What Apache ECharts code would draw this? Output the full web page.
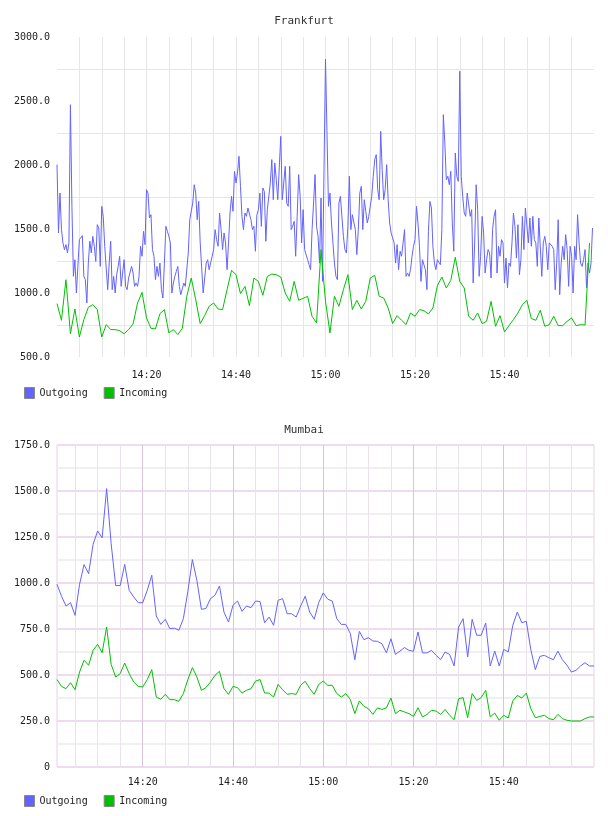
<!DOCTYPE html>
<html>
<head>
<meta charset="utf-8">
<title>Traffic</title>
<script src="https://cdn.jsdelivr.net/npm/echarts@6/dist/echarts.min.js"></script>
<style>
  html, body { margin: 0; padding: 0; background: #fff; }
  #chart { width: 608px; height: 816px; }
</style>
</head>
<body>
<div id="chart"></div>
<script>
// x values are minutes after 14:00
const fraOutStart = 0
const fraOutStep = 1 / 3
const fraInStart = 0
const fraInStep = 1

const fraOutgoing = [
  2003, 1469, 1781, 1495, 1391, 1339, 1378, 1313, 1391, 2471,
  1677, 1130, 1260, 1000, 1208, 1417, 1417, 1448, 1130, 1104,
  922, 1234, 1404, 1313, 1443, 1365, 1247, 1534, 1508, 1208,
  1677, 1599, 1365, 1195, 1026, 1234, 1404, 1026, 1130, 1000,
  1143, 1208, 1287, 1052, 1156, 1260, 1052, 1026, 1117, 1104,
  1208, 1156, 1052, 1078, 1052, 1130, 1365, 1287, 1482, 1378,
  1807, 1781, 1586, 1612, 1339, 1287, 1104, 1208, 1130, 1234,
  1026, 961, 1234, 1521, 1482, 1443, 1391, 1000, 1078, 1130,
  1169, 1208, 1052, 987, 1000, 1078, 1052, 1039, 1313, 1573,
  1560, 1703, 1846, 1781, 1573, 1716, 1391, 1195, 1000, 1117,
  1234, 1260, 1182, 1234, 1287, 1339, 1495, 1417, 1365, 1625,
  1495, 1339, 1469, 1391, 1182, 1391, 1625, 1755, 1638, 1951,
  1859, 1937, 2068, 1833, 1599, 1495, 1625, 1599, 1664, 1651,
  1573, 1495, 1521, 1326, 1612, 1651, 1781, 1521, 1820, 1794,
  1404, 1651, 1664, 1859, 2042, 1729, 2016, 1885, 1729, 1977,
  2224, 1729, 1859, 1990, 1703, 1677, 1990, 1495, 1521, 1560,
  1287, 1599, 1925, 1755, 1391, 1651, 1339, 1352, 1260, 1221,
  1182, 1495, 1703, 1925, 1521, 1443, 1234, 1742, 1091, 1963,
  2828, 2250, 1677, 1781, 1547, 1391, 1234, 1130, 1104, 1703,
  1755, 1755, 1443, 1339, 1313, 1521, 1912, 1495, 1612, 1625,
  1495, 1300, 1495, 1781, 1833, 1495, 1729, 1638, 1547, 1599,
  1599, 1755, 1912, 2042, 2081, 1807, 1729, 2263, 1964, 1729,
  1807, 2003, 1729, 1547, 1469, 1430, 1391, 1234, 1378, 1182,
  1326, 1287, 1287, 1495, 1130, 1156, 1130, 1182, 1287, 1365,
  1417, 1677, 1547, 1365, 1091, 1260, 1260, 1182, 1026, 1482,
  1716, 1664, 1365, 1234, 1182, 1260, 1260, 1221, 1495, 2393,
  2172, 1885, 1912, 1846, 1951, 1547, 1326, 2094, 1912, 1872,
  2732, 1912, 1755, 1625, 1599, 1781, 1794, 1599, 1651, 1078,
  1391, 1846, 1651, 1130, 1287, 1599, 1469, 1156, 1260, 1339,
  1313, 1117, 1495, 1599, 1651, 1156, 1365, 1287, 1417, 1391,
  1078, 1273, 1039, 1234, 1208, 1391, 1625, 1521, 1273, 1534,
  1143, 1260, 1599, 1339, 1664, 1651, 1391, 1586, 1365, 1599,
  1417, 1391, 1208, 1586, 1599, 1130, 1391, 1443, 1365, 1182,
  1391, 1391, 1365, 1339, 1026, 1234, 1573, 987, 1234, 1365,
  1260, 1456, 1339, 1052, 1365, 1287, 1000, 1365, 1260, 1612,
  1391, 1234, 1208, 1260, 1339, 1039, 1234, 1156, 1234, 1508
]

const fraIncoming = [
  917, 787, 1104, 682, 875, 656, 792, 888, 909, 870,
  656, 753, 714, 714, 706, 682, 714, 758, 922, 1005,
  805, 724, 719, 839, 870, 688, 714, 675, 724, 974,
  1117, 948, 761, 823, 896, 922, 875, 870, 1026, 1177,
  1143, 995, 1052, 901, 1117, 1091, 982, 1130, 1148, 1143,
  1125, 1000, 935, 1091, 943, 958, 974, 818, 766, 1339,
  935, 688, 974, 896, 1026, 1143, 870, 943, 875, 935,
  1117, 1138, 974, 961, 883, 761, 823, 787, 753, 844,
  818, 870, 862, 836, 883, 1057, 1125, 1039, 1099, 1279,
  1091, 1039, 818, 787, 844, 761, 779, 935, 740, 823,
  695, 745, 792, 844, 909, 943, 800, 787, 865, 740,
  753, 818, 745, 745, 779, 805, 745, 753, 750, 1391
]

const mumStart = 1
const mumStep = 1

const mumOutgoing = [
  993, 928, 875, 893, 824, 993, 1100, 1051, 1210, 1283,
  1245, 1513, 1214, 986, 986, 1101, 960, 924, 893, 893,
  960, 1042, 821, 775, 803, 752, 755, 743, 806, 955,
  1127, 1014, 857, 861, 915, 933, 984, 842, 788, 879,
  902, 846, 875, 866, 902, 899, 784, 815, 770, 906,
  915, 833, 833, 815, 875, 928, 842, 803, 893, 946,
  912, 902, 806, 775, 775, 725, 583, 737, 692, 703,
  685, 683, 670, 620, 697, 612, 630, 649, 634, 629,
  734, 620, 620, 634, 607, 583, 625, 612, 549, 761,
  806, 598, 803, 716, 716, 783, 549, 630, 549, 639,
  625, 770, 842, 784, 792, 638, 529, 601, 607, 594,
  583, 630, 583, 553, 516, 525, 549, 567, 549, 549
]

const mumIncoming = [
  475, 438, 426, 458, 420, 516, 580, 553, 634, 667,
  621, 761, 558, 489, 507, 565, 507, 462, 438, 435,
  475, 529, 380, 368, 395, 366, 366, 357, 399, 475,
  540, 489, 417, 431, 462, 498, 520, 426, 395, 438,
  431, 402, 417, 426, 467, 475, 402, 402, 380, 449,
  420, 395, 399, 395, 444, 466, 426, 395, 449, 467,
  444, 444, 399, 380, 399, 366, 290, 359, 330, 317,
  286, 321, 313, 321, 375, 290, 308, 299, 290, 275,
  322, 272, 286, 308, 304, 286, 313, 281, 257, 371,
  377, 268, 399, 362, 377, 417, 272, 293, 254, 281,
  266, 359, 389, 375, 402, 317, 268, 275, 281, 263,
  257, 286, 263, 254, 250, 250, 250, 263, 272, 272
]

const timeLabels = [20, 40, 60, 80, 100]

const OUT_COLOR = '#6363ff'
const IN_COLOR = '#00c000'
const FONT = 'DejaVu Sans Mono'
const TEXT = '#222'

const toPairs = ( arr, start, step ) => arr.map( ( v, i ) => [start + i * step, v] )

const fmtTime = v => {
  if ( timeLabels.indexOf( v ) < 0 ) {
    return ''
  }
  const h = 14 + Math.floor( v / 60 )
  const m = v % 60
  return h + ':' + ( m < 10 ? '0' + m : m )
}

const fmtVal = v => v === 0 ? '0' : v.toFixed( 1 )

const axisText = { fontFamily : FONT, fontSize : 10, color : TEXT }

const legendBase = {
  left : 24, padding : 0, itemWidth : 10, itemHeight : 11, itemGap : 16, icon : 'rect',
  itemStyle : { borderColor : '#888', borderWidth : 1 },
  textStyle : { fontFamily : FONT, fontSize : 10, color : TEXT },
  data : ['Outgoing', 'Incoming']
}

const titleText = { fontFamily : FONT, fontSize : 11, fontWeight : 'normal', color : '#333' }

const chart = echarts.init( document.getElementById( 'chart' ), null, { renderer : 'canvas' } )

chart.setOption( {
  animation : false,
  textStyle : { fontFamily : FONT },
  title : [
    { text : 'Frankfurt', left : 'center', top : 11, textStyle : titleText },
    { text : 'Mumbai', left : 'center', top : 420, textStyle : titleText }
  ],
  legend : [
    { ...legendBase, top : 387 },
    { ...legendBase, top : 795 }
  ],
  grid : [
    { left : 57, top : 37, width : 537, height : 320 },
    { left : 57, top : 445, width : 537, height : 322, show : true, borderColor : '#e6cfe6', borderWidth : 1 }
  ],
  xAxis : [
    {
      gridIndex : 0, type : 'value', min : 0, max : 120, interval : 5,
      axisLine : { show : false }, axisTick : { show : false },
      axisLabel : { ...axisText, margin : 13, formatter : fmtTime },
      splitLine : { show : true, showMinLine : false, showMaxLine : false, lineStyle : { color : '#e6e6e6', width : 1 }}
    },
    {
      gridIndex : 1, type : 'value', min : 1, max : 120, minInterval : 5, maxInterval : 5, position : 'bottom',
      axisLine : { show : false }, axisTick : { show : false },
      axisLabel : { ...axisText, margin : 10, formatter : fmtTime },
      splitLine : { show : true, showMinLine : false, showMaxLine : false, lineStyle : { color : '#ebe3eb', width : 1 }}
    },
    {
      gridIndex : 1, type : 'value', min : 1, max : 120, minInterval : 20, maxInterval : 20, position : 'top',
      axisLine : { show : false }, axisTick : { show : false }, axisLabel : { show : false },
      splitLine : { show : true, showMinLine : false, showMaxLine : false, lineStyle : { color : '#dcc3dc', width : 1 }}
    }
  ],
  yAxis : [
    {
      gridIndex : 0, type : 'value', min : 500, max : 3000, interval : 500,
      axisLine : { show : false }, axisTick : { show : false },
      axisLabel : { ...axisText, margin : 7, formatter : fmtVal },
      splitLine : { show : false },
      minorTick : { show : false, splitNumber : 2 },
      minorSplitLine : { show : true, lineStyle : { color : '#e6e6e6', width : 1 }}
    },
    {
      gridIndex : 1, type : 'value', min : 0, max : 1750, interval : 250,
      axisLine : { show : false }, axisTick : { show : false },
      axisLabel : { ...axisText, margin : 7, formatter : fmtVal },
      splitLine : { show : true, lineStyle : { color : '#eedcee', width : 2 }},
      minorTick : { show : false, splitNumber : 2 },
      minorSplitLine : { show : true, lineStyle : { color : '#f0f0f0', width : 2 }}
    }
  ],
  series : [
    {
      name : 'Outgoing', type : 'line', xAxisIndex : 0, yAxisIndex : 0,
      data : toPairs( fraOutgoing, fraOutStart, fraOutStep ),
      showSymbol : false, color : OUT_COLOR, lineStyle : { width : 1 }
    },
    {
      name : 'Incoming', type : 'line', xAxisIndex : 0, yAxisIndex : 0,
      data : toPairs( fraIncoming, fraInStart, fraInStep ),
      showSymbol : false, color : IN_COLOR, lineStyle : { width : 1 }
    },
    {
      name : 'Outgoing', type : 'line', xAxisIndex : 1, yAxisIndex : 1,
      data : toPairs( mumOutgoing, mumStart, mumStep ),
      showSymbol : false, color : OUT_COLOR, lineStyle : { width : 1 }
    },
    {
      name : 'Incoming', type : 'line', xAxisIndex : 1, yAxisIndex : 1,
      data : toPairs( mumIncoming, mumStart, mumStep ),
      showSymbol : false, color : IN_COLOR, lineStyle : { width : 1 }
    }
  ]
} )
</script>
</body>
</html>
